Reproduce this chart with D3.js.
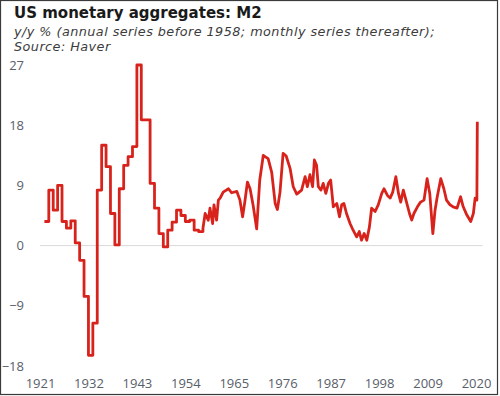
<!DOCTYPE html>
<html>
<head>
<meta charset="utf-8">
<script src="https://cdn.jsdelivr.net/npm/d3@7"></script>
<style>
  body { margin: 0; background: #fff; }
  svg { display: block; }
</style>
</head>
<body>
<div id="container"></div>
<script>
var width = 500;
var height = 396;

// annual series (before 1958), value held for the whole year
var annualYears = [1922,1923,1924,1925,1926,1927,1928,1929,1930,1931,1932,1933,1934,1935,1936,1937,1938,1939,
  1940,1941,1942,1943,1944,1945,1946,1947,1948,1949,1950,1951,1952,1953,1954,1955,1956,1957];
var annualValues = [3.6,8.3,5.3,9.0,3.6,2.6,3.7,0.4,-2.2,-7.6,-16.4,-11.6,8.3,15.0,11.8,4.8,0.1,8.5,
  12.0,13.3,14.8,27.0,18.8,18.8,9.3,5.6,1.8,-0.2,2.3,3.5,5.3,4.5,3.6,3.8,2.3,2.1];

// monthly series (1958 onward)
var monthlyDates = [1958.0,1958.5,1959.2,1959.6,1960.2,1960.5,1961.1,1961.5,1961.9,1962.6,1963.8,1964.5,1965.7,
  1966.4,1967.0,1967.5,1968.1,1968.7,1969.4,1970.2,1970.9,1971.7,1972.1,1972.8,1973.6,1974.4,1974.9,1975.5,
  1976.2,1976.9,1977.8,1978.5,1979.3,1980.4,1981.2,1981.7,1982.3,1982.9,1983.3,1983.8,1984.2,1984.8,1985.3,
  1985.9,1986.5,1987.0,1987.6,1988.4,1989.0,1989.5,1990.0,1990.6,1991.4,1992.1,1992.9,1993.5,1994.0,1994.6,
  1995.2,1995.8,1996.3,1997.1,1997.8,1998.6,1999.1,1999.9,2000.5,2001.1,2001.8,2002.4,2002.9,2003.5,2004.1,
  2004.9,2005.4,2005.9,2006.7,2007.4,2008.2,2008.9,2009.5,2010.2,2010.7,2011.2,2012.0,2012.7,2013.3,2014.1,
  2014.8,2015.7,2016.5,2017.1,2017.9,2018.8,2019.4,2019.8,2020.2,2020.3];
var monthlyValues = [2.6,4.8,3.8,5.6,3.3,6.1,3.8,6.8,7.1,8.0,8.5,7.9,8.1,
  6.8,4.3,6.5,9.5,8.5,6.0,2.5,9.8,13.5,13.3,13.0,11.0,6.3,5.4,8.0,
  13.8,13.4,11.5,8.8,7.7,8.3,10.3,8.8,10.6,8.8,12.8,12.0,8.8,8.3,9.3,
  7.8,9.3,9.8,5.8,6.3,4.3,6.1,6.3,4.8,3.3,2.3,1.3,2.1,0.8,1.8,
  0.8,2.8,5.6,5.1,6.1,7.8,8.5,7.5,7.1,8.0,10.3,7.8,6.5,8.3,6.8,
  4.8,3.8,4.8,5.8,6.5,6.8,10.0,7.8,1.8,5.3,7.3,10.0,8.5,6.8,6.1,
  5.8,5.6,7.3,5.8,4.6,3.6,4.8,7.1,6.8,18.5];

var yTicks = [27,18,9,0,-9,-18];
var xTicks = [1921,1932,1943,1954,1965,1976,1987,1998,2009,2020];

var title = "US monetary aggregates: M2";
var subtitle1 = "y/y % (annual series before 1958; monthly series thereafter);";
var subtitle2 = "Source: Haver";

var svg = d3.select('div#container')
  .append('svg')
  .attr('width', width)
  .attr('height', height);

svg.append('rect')
  .attr('x', 0.5).attr('y', 0.5)
  .attr('width', 497).attr('height', 394)
  .attr('fill', '#fff')
  .attr('stroke', '#3a3a3a')
  .attr('stroke-width', 1.2);

var x = d3.scaleLinear().domain([1921, 2020]).range([40, 476]);
var y = d3.scaleLinear().domain([-18, 27]).range([366, 65]);

// title block
svg.append('text')
  .attr('x', 14).attr('y', 18)
  .attr('font-family', 'DejaVu Sans')
  .attr('font-weight', 'bold')
  .attr('font-size', 15)
  .attr('fill', '#1a1a1a')
  .text(title);

var sub = svg.append('text')
  .attr('font-family', 'DejaVu Sans')
  .attr('font-style', 'italic')
  .attr('font-size', 12.8)
  .attr('letter-spacing', 0.45)
  .attr('fill', '#3c3c3c');
sub.append('tspan').attr('x', 14).attr('y', 36).text(subtitle1);
sub.append('tspan').attr('x', 14).attr('y', 51).text(subtitle2);

// zero line
svg.append('line')
  .attr('x1', x(1921)).attr('x2', x(2021.5))
  .attr('y1', y(0)).attr('y2', y(0))
  .attr('stroke', '#d9d9d9')
  .attr('stroke-width', 1);

// y axis labels
var yAxis = d3.axisLeft(y).tickValues(yTicks).tickSize(0).tickPadding(0);
var gy = svg.append('g').attr('transform', 'translate(24,0)').call(yAxis);
gy.select('.domain').remove();
gy.selectAll('text')
  .attr('font-family', 'Open Sans')
  .attr('font-size', 13)
  .attr('fill', '#58606a');

// x axis labels
var xAxis = d3.axisBottom(x).tickValues(xTicks).tickFormat(d3.format('d')).tickSize(0).tickPadding(0);
var gx = svg.append('g').attr('transform', 'translate(0,379)').call(xAxis);
gx.select('.domain').remove();
gx.selectAll('text')
  .attr('font-family', 'Open Sans')
  .attr('font-size', 13)
  .attr('fill', '#58606a');

// build series: annual values as steps, then monthly points
var pts = [];
for (var i = 0; i < annualYears.length; i++) {
  pts.push([annualYears[i], annualValues[i]]);
  pts.push([annualYears[i] + 1, annualValues[i]]);
}
for (var j = 0; j < monthlyDates.length; j++) {
  pts.push([monthlyDates[j], monthlyValues[j]]);
}

var line = d3.line()
  .x(function(d){ return x(d[0]); })
  .y(function(d){ return y(d[1]); });

svg.append('path')
  .datum(pts)
  .attr('d', line)
  .attr('fill', 'none')
  .attr('stroke', '#d8231c')
  .attr('stroke-width', 2.8)
  .attr('stroke-linejoin', 'round');
</script>
</body>
</html>
